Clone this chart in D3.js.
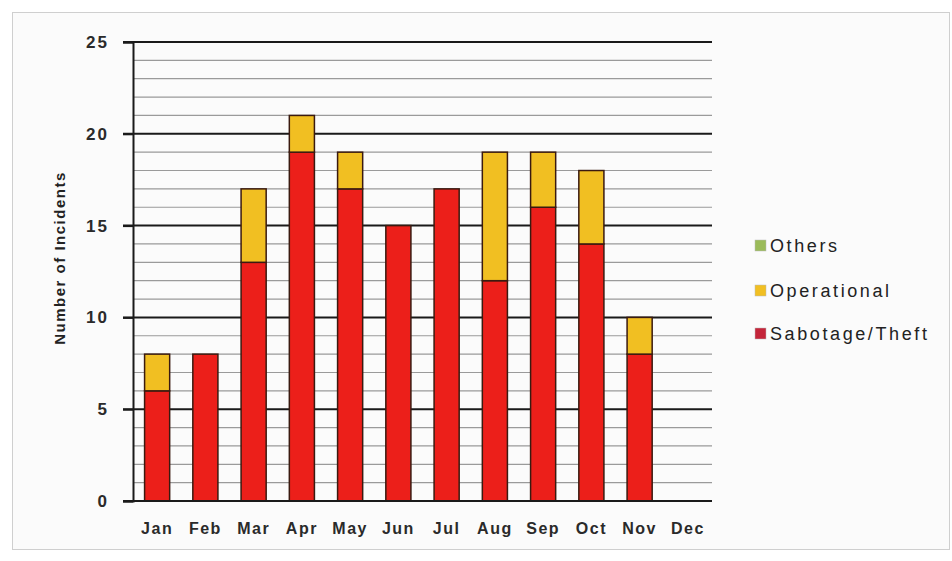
<!DOCTYPE html>
<html>
<head>
<meta charset="utf-8">
<script src="https://cdn.jsdelivr.net/npm/d3@7"></script>
<style>
  body { margin: 0; background: #ffffff; }
  svg text { font-family: "Liberation Sans", "DejaVu Sans", sans-serif; fill: #222; }
</style>
</head>
<body>
<script>
var months = ["Jan", "Feb", "Mar", "Apr", "May", "Jun", "Jul", "Aug", "Sep", "Oct", "Nov", "Dec"];
var sabotage = [6, 8, 13, 19, 17, 15, 17, 12, 16, 14, 8, 0];
var operational = [2, 0, 4, 2, 2, 0, 0, 7, 3, 4, 2, 0];
var others = [0, 0, 0, 0, 0, 0, 0, 0, 0, 0, 0, 0];
var seriesNames = ["Sabotage/Theft", "Operational", "Others"];
var seriesColors = ["#ec1f1a", "#f1bf22", "#9bbb59"];
var yTicks = [0, 5, 10, 15, 20, 25];

function init() {
    var w = 952, h = 561;
    var svg = d3.select("body").append("svg")
        .attr("width", w)
        .attr("height", h);

    // frame
    svg.append("rect")
        .attr("x", 12.5).attr("y", 12.5)
        .attr("width", 937).attr("height", 537)
        .attr("fill", "#fbfbfb")
        .attr("stroke", "#cfcfcf");

    var left = 133, right = 712, top = 42, bottom = 501;

    var x = d3.scaleBand().domain(months).range([left, right]).paddingInner(0.48).paddingOuter(0.24);
    var y = d3.scaleLinear().domain([0, 25]).range([bottom, top]);

    // minor gridlines
    svg.append("g").selectAll("line")
        .data(d3.range(1, 25).filter(v => v % 5 !== 0))
        .enter().append("line")
        .attr("x1", left).attr("x2", right)
        .attr("y1", d => y(d)).attr("y2", d => y(d))
        .attr("stroke", "#9a9a9a").attr("stroke-width", 1.2);

    // major gridlines
    svg.append("g").selectAll("line")
        .data(yTicks.filter(v => v > 0))
        .enter().append("line")
        .attr("x1", left - 10).attr("x2", right)
        .attr("y1", d => y(d)).attr("y2", d => y(d))
        .attr("stroke", "#1a1a1a").attr("stroke-width", 2);

    // stacked data
    var table = months.map((m, i) => ({
        month: m,
        "Sabotage/Theft": sabotage[i],
        "Operational": operational[i],
        "Others": others[i]
    }));
    var stack = d3.stack().keys(seriesNames)(table);

    svg.append("g").selectAll("g")
        .data(stack)
        .enter().append("g")
        .attr("fill", (d, i) => seriesColors[i])
        .selectAll("rect")
        .data(d => d.filter(s => s[1] > s[0]))
        .enter().append("rect")
        .attr("x", d => x(d.data.month))
        .attr("width", x.bandwidth())
        .attr("y", d => y(d[1]))
        .attr("height", d => y(d[0]) - y(d[1]))
        .attr("stroke", "#3a1a10")
        .attr("stroke-width", 1.5);

    // y axis
    var yAxis = svg.append("g")
        .attr("transform", "translate(" + left + ",0)")
        .call(d3.axisLeft(y).tickValues(yTicks).tickSize(10).tickPadding(14));
    yAxis.select(".domain").attr("stroke", "#1a1a1a").attr("stroke-width", 2);
    yAxis.selectAll(".tick line").attr("stroke", "#1a1a1a").attr("stroke-width", 2);
    yAxis.selectAll("text")
        .attr("font-size", 17).attr("font-weight", "bold")
        .style("letter-spacing", "2px").style("fill", "#2a2a2a");

    // baseline
    svg.append("line")
        .attr("x1", left - 10).attr("x2", right)
        .attr("y1", y(0)).attr("y2", y(0))
        .attr("stroke", "#1a1a1a").attr("stroke-width", 2);

    // x axis labels
    var xAxis = svg.append("g")
        .attr("transform", "translate(0," + bottom + ")")
        .call(d3.axisBottom(x).tickSize(0).tickPadding(22));
    xAxis.select(".domain").remove();
    xAxis.selectAll("text")
        .attr("font-size", 16).attr("font-weight", "bold")
        .style("letter-spacing", "1.5px").style("fill", "#2a2a2a");

    // y axis title
    svg.append("text")
        .attr("transform", "translate(65,258) rotate(-90)")
        .attr("text-anchor", "middle")
        .attr("font-size", 15)
        .attr("font-weight", "bold")
        .style("letter-spacing", "1.5px")
        .text("Number of Incidents");

    // legend (reverse order)
    var legendY = [245, 290, 333];
    var legendItems = seriesNames.slice().reverse();
    var legendColors = seriesColors.slice().reverse();
    var legend = svg.append("g").selectAll("g")
        .data(legendItems)
        .enter().append("g")
        .attr("transform", (d, i) => "translate(755," + legendY[i] + ")");
    legend.append("rect")
        .attr("x", 0).attr("y", -5)
        .attr("width", 11).attr("height", 11)
        .attr("fill", (d, i) => i === 2 ? "#c4253a" : legendColors[i])
        .attr("stroke", "#bbb").attr("stroke-width", 0.5);
    legend.append("text")
        .attr("x", 15).attr("y", 7)
        .attr("font-size", 18)
        .style("letter-spacing", "2.6px")
        .text(d => d);
}

window.onload = init;
</script>
</body>
</html>
